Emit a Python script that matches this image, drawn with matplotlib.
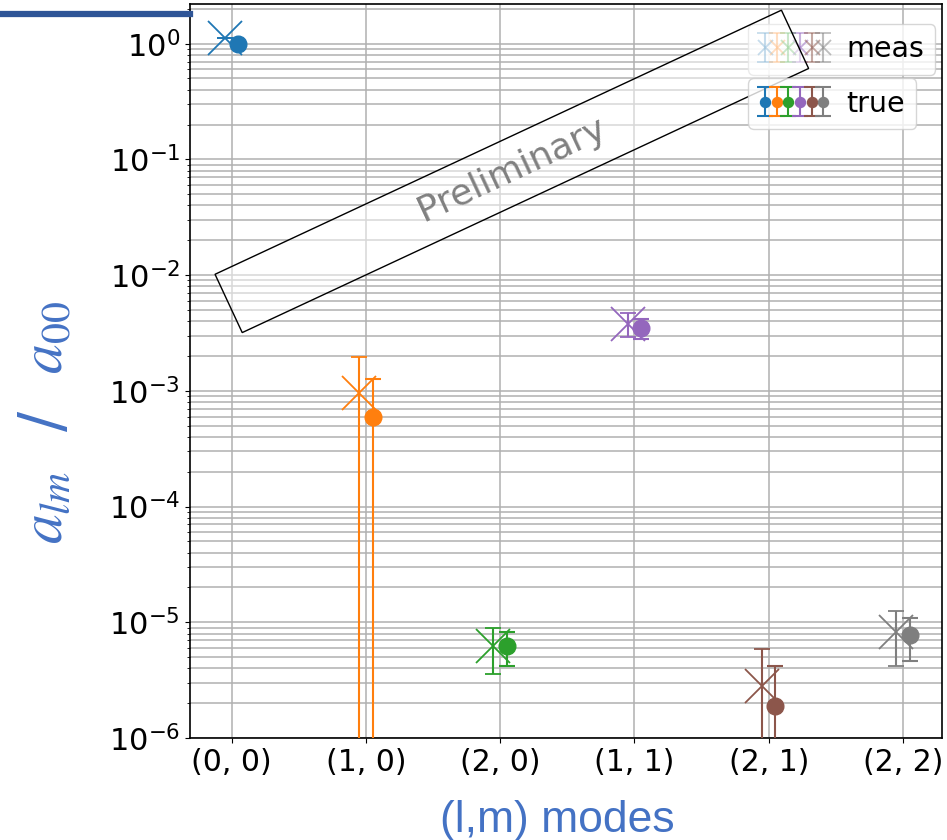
import matplotlib
matplotlib.use("Agg")
import matplotlib.pyplot as plt
from matplotlib.lines import Line2D
from matplotlib.collections import LineCollection
from matplotlib.legend_handler import HandlerTuple

# (l,m) modes and amplitudes relative to a_00
modes = ["(0, 0)", "(1, 0)", "(2, 0)", "(1, 1)", "(2, 1)", "(2, 2)"]
colors = ["tab:blue", "tab:orange", "tab:green", "tab:purple", "tab:brown", "tab:gray"]

meas = [1.12, 9.6e-4, 6.3e-6, 3.8e-3, 2.8e-6, 8.3e-6]
meas_err = [0.0, 1.02e-3, 2.7e-6, 0.9e-3, 3.1e-6, 4.1e-6]
true = [1.0, 6.0e-4, 6.2e-6, 3.5e-3, 1.9e-6, 7.8e-6]
true_err = [0.0, 6.7e-4, 2.0e-6, 0.7e-3, 2.3e-6, 3.2e-6]

plt.rcParams["mathtext.fontset"] = "dejavusans"

fig = plt.figure(figsize=(9.47, 8.4), dpi=100)
ax = fig.add_axes([0.2006, 0.1214, 0.7941, 0.8738])
ax.set_yscale("log")

meas_h = []
true_h = []
for i in range(len(modes)):
    m = ax.errorbar(i - 0.05, meas[i], yerr=meas_err[i], fmt="x", color=colors[i],
                    ms=24, mew=1.3, capsize=6, elinewidth=1.5, capthick=1.5, zorder=3)
    t = ax.errorbar(i + 0.05, true[i], yerr=true_err[i], fmt="o", color=colors[i],
                    ms=12, capsize=6, elinewidth=1.5, capthick=1.5, zorder=3)
    meas_h.append(m)
    true_h.append(t)

ax.set_xticks(range(len(modes)))
ax.set_xticklabels(modes)
ax.set_xlim(-0.31, 5.29)
ax.set_ylim(1e-6, 2.2)
ax.tick_params(axis="x", labelsize=21.5)
ax.tick_params(axis="y", labelsize=22)
ax.grid(True, which="major", color="#b0b0b0", lw=1.1)
ax.grid(True, which="minor", axis="y", color="#b0b0b0", lw=1.1)
ax.set_axisbelow(True)
for s in ax.spines.values():
    s.set_linewidth(1.2)

ax.set_ylabel(r"$a_{lm}$  /  $a_{00}$", fontsize=43, color="#4472C4",
              math_fontfamily="stix")
ax.yaxis.set_label_coords(-0.152, 0.43)
ax.set_xlabel("(l,m) modes", fontsize=32, color="#4472C4", family="Liberation Sans",
              va="center")
ax.xaxis.set_label_coords(0.488, -0.112)

# legends: measured (faded) and true
hmap = {tuple: HandlerTuple(ndivide=None, pad=0)}
leg_meas = ax.legend([tuple(meas_h)], ["meas"], loc="upper left",
                     bbox_to_anchor=(0.742, 0.973), borderaxespad=0, fontsize=20.5,
                     markerscale=0.45, handlelength=2.45, handletextpad=0.6,
                     handler_map=hmap)
for a in leg_meas.findobj(lambda a: isinstance(a, (Line2D, LineCollection))):
    a.set_alpha(0.5)
leg_meas.set_zorder(4)
ax.add_artist(leg_meas)

leg_true = ax.legend([tuple(true_h)], ["true"], loc="upper left",
                     bbox_to_anchor=(0.742, 0.899), borderaxespad=0, fontsize=20.5,
                     markerscale=0.6, handlelength=2.45, handletextpad=0.6,
                     handler_map=hmap)
leg_true.set_zorder(6)

pad = " " * 17
ax.text(0.428, 0.772, pad + "Preliminary" + pad, transform=ax.transAxes,
        fontsize=26, color="gray", rotation=25, ha="center", va="center",
        rotation_mode="anchor", zorder=5,
        bbox=dict(boxstyle="square,pad=0.42", fc=(1, 1, 1, 0.5), ec="black", lw=1.0))

# slide header line
fig.add_artist(Line2D([0, 0.2006], [1 - 14 / 840] * 2, transform=fig.transFigure,
                      lw=4.5, color="#2F5597"))

fig.savefig("out.png", dpi=100)
